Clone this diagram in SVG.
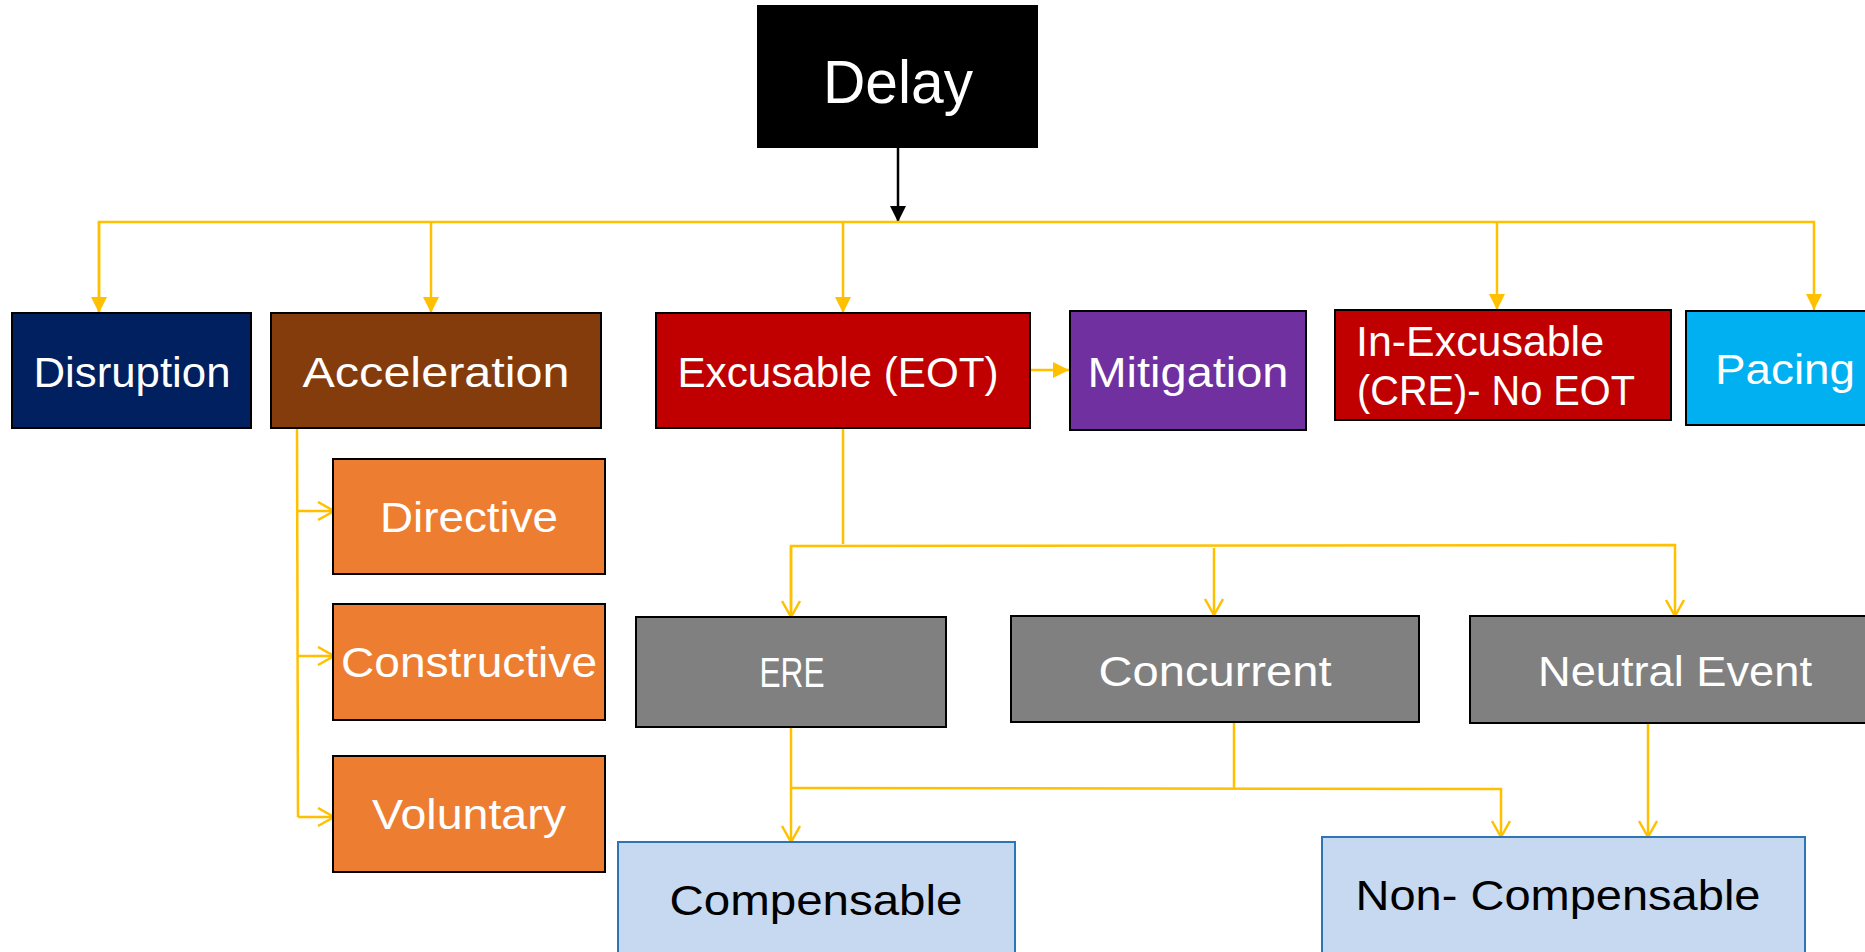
<svg xmlns="http://www.w3.org/2000/svg" width="1865" height="952" viewBox="0 0 1865 952">
<style>
.box{stroke:#000;stroke-width:2}
.lb{fill:#C6D9F0;stroke:#2E75B6;stroke-width:2}
.t{font-family:"Liberation Sans",Arial,sans-serif;font-size:42px;fill:#fff}
.tb{font-family:"Liberation Sans",Arial,sans-serif;font-size:42px;fill:#000}
.c{text-anchor:middle}
.y{fill:none;stroke:#FFC000;stroke-width:2.5}
</style>
<defs>
<marker id="fy" markerUnits="userSpaceOnUse" markerWidth="18" markerHeight="18" refX="16" refY="8" orient="auto"><path d="M0,0 L16,8 L0,16 z" fill="#FFC000"/></marker>
<marker id="oy" markerUnits="userSpaceOnUse" markerWidth="20" markerHeight="22" refX="17" refY="10" orient="auto"><path d="M1,1 L17,10 L1,19" fill="none" stroke="#FFC000" stroke-width="2.5"/></marker>
<marker id="fb" markerUnits="userSpaceOnUse" markerWidth="18" markerHeight="18" refX="16" refY="8" orient="auto"><path d="M0,0 L16,8 L0,16 z" fill="#000"/></marker>
</defs>
<rect width="1865" height="952" fill="#fff"/>
<g id="connectors">
<line x1="898" y1="148" x2="898" y2="222" stroke="#000" stroke-width="2.5" marker-end="url(#fb)"/>
<polyline class="y" points="99,313 99,222 1814,222 1814,310" marker-end="url(#fy)"/>
<line class="y" x1="99" y1="222" x2="99" y2="313" marker-end="url(#fy)"/>
<line class="y" x1="431" y1="222" x2="431" y2="313" marker-end="url(#fy)"/>
<line class="y" x1="843" y1="222" x2="843" y2="313" marker-end="url(#fy)"/>
<line class="y" x1="1497" y1="222" x2="1497" y2="310" marker-end="url(#fy)"/>
<line class="y" x1="1030" y1="370" x2="1069" y2="370" marker-end="url(#fy)"/>
<line class="y" x1="297" y1="429" x2="298" y2="817"/>
<line class="y" x1="297" y1="511" x2="334" y2="511" marker-end="url(#oy)"/>
<line class="y" x1="297" y1="656" x2="334" y2="656" marker-end="url(#oy)"/>
<line class="y" x1="298" y1="817" x2="334" y2="817" marker-end="url(#oy)"/>
<line class="y" x1="843" y1="428" x2="843" y2="544"/>
<polyline class="y" points="791,617 791,546 1675,545 1675,616" marker-end="url(#oy)"/>
<line class="y" x1="791" y1="546" x2="791" y2="617" marker-end="url(#oy)"/>
<line class="y" x1="1214" y1="548" x2="1214" y2="615" marker-end="url(#oy)"/>
<line class="y" x1="791" y1="727" x2="791" y2="842" marker-end="url(#oy)"/>
<polyline class="y" points="791,788 1501,789 1501,837" marker-end="url(#oy)"/>
<line class="y" x1="1234" y1="722" x2="1234" y2="790"/>
<line class="y" x1="1648" y1="722" x2="1648" y2="837" marker-end="url(#oy)"/>
</g>
<g id="delay"><rect x="757" y="5" width="281" height="143" fill="#000"/><text class="t c" x="898" y="103" font-size="62" style="font-size:62px" textLength="150" lengthAdjust="spacingAndGlyphs">Delay</text></g>
<g id="disruption"><rect class="box" x="12" y="313" width="239" height="115" fill="#002060"/><text class="t c" x="132" y="387" textLength="197" lengthAdjust="spacingAndGlyphs">Disruption</text></g>
<g id="acceleration"><rect class="box" x="271" y="313" width="330" height="115" fill="#843C0C"/><text class="t c" x="436" y="387" textLength="267" lengthAdjust="spacingAndGlyphs">Acceleration</text></g>
<g id="excusable"><rect class="box" x="656" y="313" width="374" height="115" fill="#C00000"/><text class="t c" x="838" y="387" textLength="321" lengthAdjust="spacingAndGlyphs">Excusable (EOT)</text></g>
<g id="mitigation"><rect class="box" x="1070" y="311" width="236" height="119" fill="#7030A0"/><text class="t c" x="1188" y="387" textLength="201" lengthAdjust="spacingAndGlyphs">Mitigation</text></g>
<g id="inexcusable"><rect class="box" x="1335" y="310" width="336" height="110" fill="#C00000"/><text class="t" x="1356" y="356" textLength="248" lengthAdjust="spacingAndGlyphs">In-Excusable</text><text class="t" x="1357" y="405" textLength="278" lengthAdjust="spacingAndGlyphs">(CRE)- No EOT</text></g>
<g id="pacing"><rect class="box" x="1686" y="311" width="200" height="114" fill="#00B0F0"/><text class="t" x="1715" y="384" textLength="140" lengthAdjust="spacingAndGlyphs">Pacing</text></g>
<g id="directive"><rect class="box" x="333" y="459" width="272" height="115" fill="#ED7D31"/><text class="t c" x="469" y="532" textLength="178" lengthAdjust="spacingAndGlyphs">Directive</text></g>
<g id="constructive"><rect class="box" x="333" y="604" width="272" height="116" fill="#ED7D31"/><text class="t c" x="469" y="677" textLength="256" lengthAdjust="spacingAndGlyphs">Constructive</text></g>
<g id="voluntary"><rect class="box" x="333" y="756" width="272" height="116" fill="#ED7D31"/><text class="t c" x="469" y="829" textLength="194" lengthAdjust="spacingAndGlyphs">Voluntary</text></g>
<g id="ere"><rect class="box" x="636" y="617" width="310" height="110" fill="#808080"/><text class="t c" x="792" y="687" textLength="65" lengthAdjust="spacingAndGlyphs">ERE</text></g>
<g id="concurrent"><rect class="box" x="1011" y="616" width="408" height="106" fill="#808080"/><text class="t c" x="1215" y="686" textLength="233" lengthAdjust="spacingAndGlyphs">Concurrent</text></g>
<g id="neutral"><rect class="box" x="1470" y="616" width="420" height="107" fill="#808080"/><text class="t c" x="1675" y="686" textLength="274" lengthAdjust="spacingAndGlyphs">Neutral Event</text></g>
<g id="compensable"><rect class="lb" x="618" y="842" width="397" height="130"/><text class="tb c" x="816" y="915" textLength="293" lengthAdjust="spacingAndGlyphs">Compensable</text></g>
<g id="noncompensable"><rect class="lb" x="1322" y="837" width="483" height="135"/><text class="tb c" x="1558" y="910" textLength="405" lengthAdjust="spacingAndGlyphs">Non- Compensable</text></g>
</svg>
